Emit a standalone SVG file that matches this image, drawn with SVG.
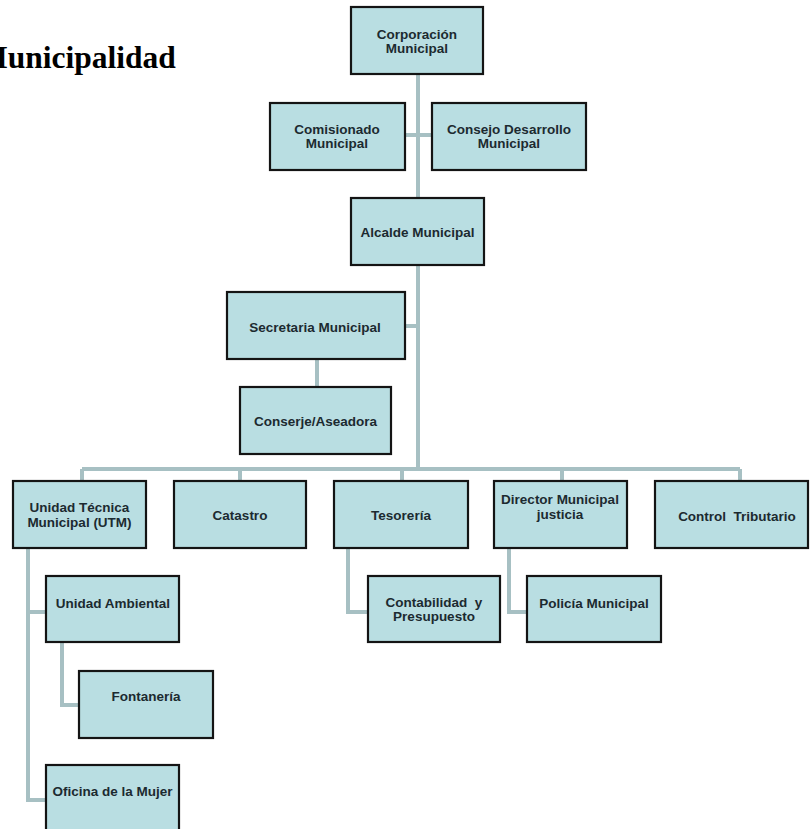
<svg xmlns="http://www.w3.org/2000/svg" width="810" height="829" viewBox="0 0 810 829">
<style>
.box{fill:#b9dee2;stroke:#141414;stroke-width:2.2}
.t{font-family:"Liberation Sans",Arial,sans-serif;font-weight:bold;font-size:13.5px;fill:#1c2a30;text-anchor:middle}
.c{fill:none;stroke:#a7c0c3;stroke-width:4}
.title{font-family:"Liberation Serif","Times New Roman",serif;font-weight:bold;font-size:31.5px;fill:#000}
</style>
<rect width="810" height="829" fill="#fff"/>
<text class="title" x="-22" y="68">Municipalidad</text>
<g id="connectors">
<path class="c" d="M418 74V198M418 265V469M405 135H432M405 326H418M317 359V387"/>
<path class="c" d="M82 469H740M82 469V481M240 469V481M402 469V481M562 469V481M740 469V481"/>
<path class="c" d="M28 548V800H46M28 612H46M62 642V705H79M348 548V612H368M509 548V612H527"/>
</g>
<g id="corporacion"><rect class="box" x="351" y="7" width="132" height="67"/><text class="t" x="417" y="39">Corporación</text><text class="t" x="417" y="53">Municipal</text></g>
<g id="comisionado"><rect class="box" x="270" y="103" width="135" height="67"/><text class="t" x="337" y="134">Comisionado</text><text class="t" x="337" y="148">Municipal</text></g>
<g id="consejo"><rect class="box" x="432" y="103" width="154" height="67"/><text class="t" x="509" y="134">Consejo Desarrollo</text><text class="t" x="509" y="148">Municipal</text></g>
<g id="alcalde"><rect class="box" x="351" y="198" width="133" height="67"/><text class="t" x="417.5" y="237">Alcalde Municipal</text></g>
<g id="secretaria"><rect class="box" x="227" y="292" width="178" height="67"/><text class="t" x="315" y="332">Secretaria Municipal</text></g>
<g id="conserje"><rect class="box" x="240" y="387" width="151" height="67"/><text class="t" x="315.5" y="426">Conserje/Aseadora</text></g>
<g id="utm"><rect class="box" x="13" y="481" width="133" height="67"/><text class="t" x="79.5" y="512">Unidad Técnica</text><text class="t" x="79.5" y="527">Municipal (UTM)</text></g>
<g id="catastro"><rect class="box" x="174" y="481" width="132" height="67"/><text class="t" x="240" y="520">Catastro</text></g>
<g id="tesoreria"><rect class="box" x="334" y="481" width="134" height="67"/><text class="t" x="401" y="520">Tesorería</text></g>
<g id="director"><rect class="box" x="494" y="481" width="133" height="67"/><text class="t" x="560" y="504">Director Municipal</text><text class="t" x="560" y="519">justicia</text></g>
<g id="control"><rect class="box" x="655" y="481" width="153" height="67"/><text class="t" x="737" y="521" xml:space="preserve">Control  Tributario</text></g>
<g id="ambiental"><rect class="box" x="46" y="576" width="133" height="66"/><text class="t" x="113" y="608">Unidad Ambiental</text></g>
<g id="contabilidad"><rect class="box" x="368" y="576" width="132" height="66"/><text class="t" x="434" y="607" xml:space="preserve">Contabilidad  y</text><text class="t" x="434" y="621">Presupuesto</text></g>
<g id="policia"><rect class="box" x="527" y="576" width="134" height="66"/><text class="t" x="594" y="608">Policía Municipal</text></g>
<g id="fontaneria"><rect class="box" x="79" y="671" width="134" height="67"/><text class="t" x="146" y="701">Fontanería</text></g>
<g id="oficina"><rect class="box" x="46" y="765" width="133" height="70"/><text class="t" x="112.5" y="796">Oficina de la Mujer</text></g>
</svg>
